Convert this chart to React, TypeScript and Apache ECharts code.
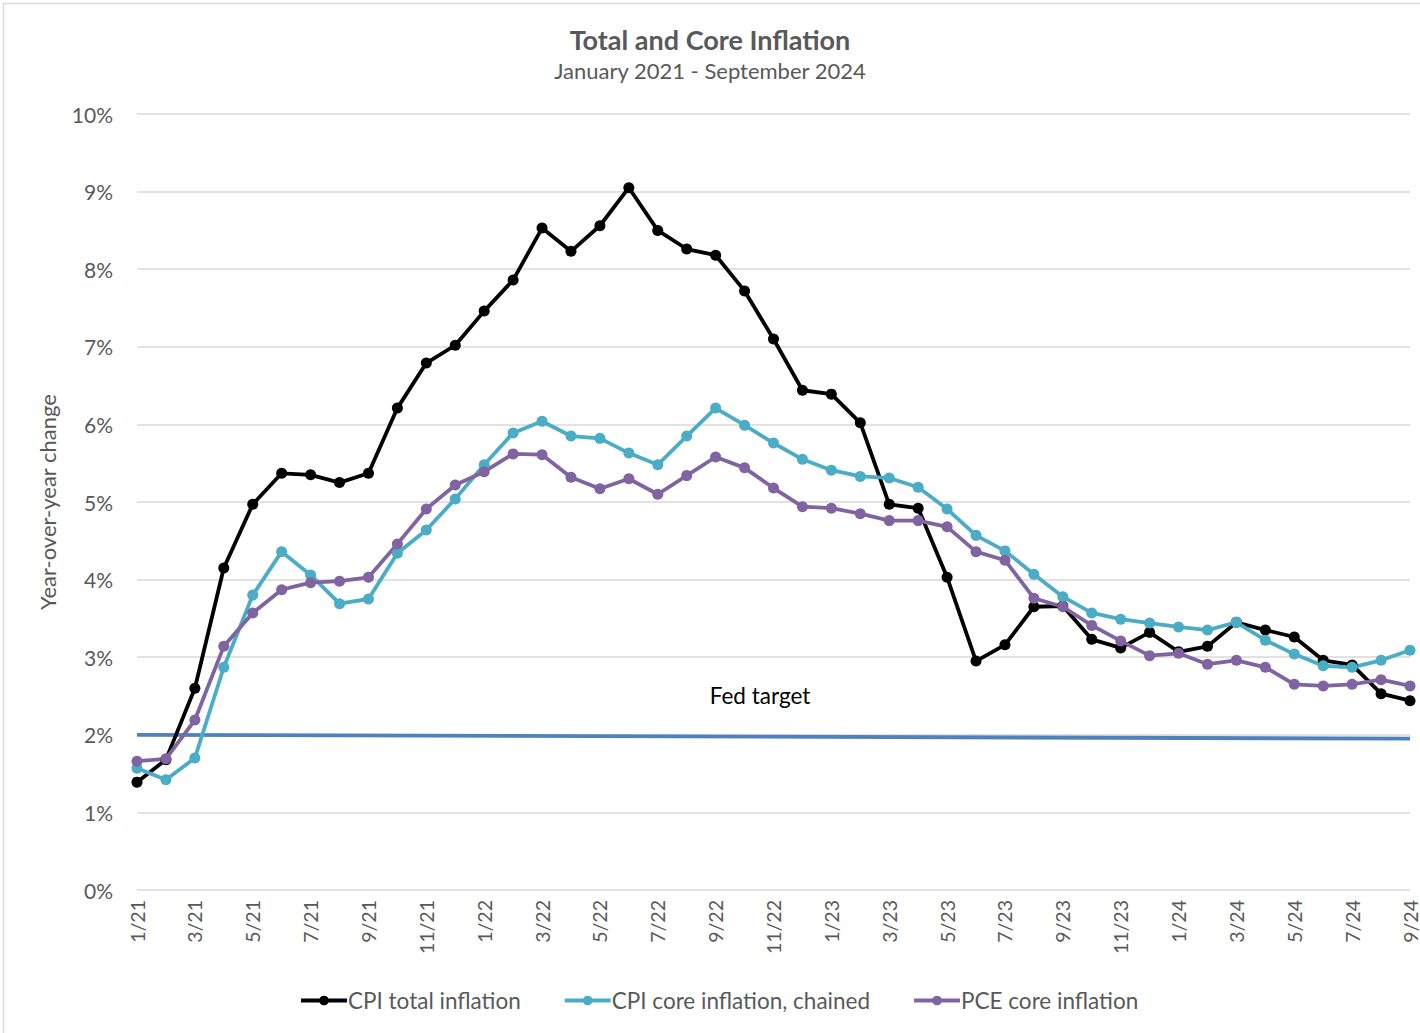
import React, { useEffect, useRef } from "react";
import * as echarts from "echarts";

const months = [
  "1/21","2/21","3/21","4/21","5/21","6/21","7/21","8/21","9/21","10/21","11/21","12/21",
  "1/22","2/22","3/22","4/22","5/22","6/22","7/22","8/22","9/22","10/22","11/22","12/22",
  "1/23","2/23","3/23","4/23","5/23","6/23","7/23","8/23","9/23","10/23","11/23","12/23",
  "1/24","2/24","3/24","4/24","5/24","6/24","7/24","8/24","9/24",
];

const cpiTotal = [
  1.39, 1.68, 2.6, 4.15, 4.97, 5.37, 5.35, 5.25, 5.37, 6.21, 6.79, 7.02,
  7.46, 7.86, 8.53, 8.23, 8.56, 9.05, 8.5, 8.26, 8.18, 7.72, 7.1, 6.44,
  6.39, 6.02, 4.97, 4.92, 4.03, 2.95, 3.16, 3.65, 3.66, 3.23, 3.12, 3.32,
  3.07, 3.14, 3.45, 3.35, 3.26, 2.96, 2.9, 2.53, 2.44,
];

const cpiCore = [
  1.57, 1.42, 1.7, 2.87, 3.8, 4.36, 4.06, 3.69, 3.75, 4.34, 4.64, 5.04,
  5.48, 5.89, 6.04, 5.85, 5.82, 5.63, 5.48, 5.85, 6.21, 5.99, 5.76, 5.55,
  5.41, 5.33, 5.31, 5.19, 4.91, 4.57, 4.37, 4.07, 3.78, 3.57, 3.49, 3.44,
  3.39, 3.35, 3.45, 3.22, 3.04, 2.89, 2.87, 2.96, 3.09,
];

const pceCore = [
  1.66, 1.69, 2.19, 3.14, 3.57, 3.87, 3.96, 3.98, 4.03, 4.46, 4.91, 5.22,
  5.39, 5.62, 5.61, 5.32, 5.17, 5.3, 5.1, 5.34, 5.58, 5.44, 5.18, 4.94,
  4.92, 4.85, 4.76, 4.76, 4.68, 4.36, 4.25, 3.76, 3.65, 3.41, 3.21, 3.02,
  3.05, 2.91, 2.96, 2.87, 2.65, 2.63, 2.65, 2.71, 2.63,
];

const fedTargetStart = 2.0;
const fedTargetEnd = 1.95;

const yTicks = [0, 1, 2, 3, 4, 5, 6, 7, 8, 9, 10];

const FONT = "Lato, 'Noto Sans', sans-serif";
const GREY = "#595959";

export default function App() {
  const ref = useRef<HTMLDivElement>(null);

  useEffect(() => {
    if (!ref.current) return;
    const chart = echarts.init(ref.current, null, { renderer: "svg" });
    const fedData = months.map((_, i) =>
      i === 0 ? fedTargetStart : i === months.length - 1 ? fedTargetEnd : null
    );
    const lineSeries = (name: string, data: number[], color: string) => ({
      name,
      type: "line",
      data,
      symbol: "circle",
      symbolSize: 11,
      showSymbol: true,
      lineStyle: { color, width: 3.8 },
      itemStyle: { color },
      z: 3,
    });
    chart.setOption({
      animation: false,
      backgroundColor: "#ffffff",
      textStyle: { fontFamily: FONT },
      title: {
        text: "Total and Core Inflation",
        subtext: "January 2021 - September 2024",
        left: "center",
        top: 21,
        itemGap: 6,
        textStyle: { fontFamily: FONT, fontSize: 27, fontWeight: "bold", color: GREY },
        subtextStyle: { fontFamily: FONT, fontSize: 22, color: GREY },
      },
      grid: { left: 137, right: 10, top: 114, bottom: 143, containLabel: false },
      legend: {
        bottom: 21,
        left: 299,
        padding: 0,
        itemWidth: 46,
        itemHeight: 12,
        itemGap: 42,
        lineStyle: { width: 4 },
        textStyle: { fontFamily: FONT, fontSize: 22.5, color: GREY, padding: [0, 0, 0, -4] },
        data: ["CPI total inflation", "CPI core inflation, chained", "PCE core inflation"],
      },
      xAxis: {
        type: "category",
        data: months,
        boundaryGap: false,
        axisLine: { show: false },
        axisTick: { show: false },
        axisLabel: {
          interval: 1,
          rotate: 90,
          fontFamily: FONT,
          fontSize: 19.5,
          color: GREY,
          margin: 10,
        },
        splitLine: { show: false },
      },
      yAxis: {
        type: "value",
        min: 0,
        max: 10,
        interval: 1,
        name: "Year-over-year change",
        nameLocation: "middle",
        nameGap: 79,
        nameRotate: 90,
        nameTextStyle: { fontFamily: FONT, fontSize: 22, color: GREY },
        axisLine: { show: false },
        axisTick: { show: false },
        axisLabel: {
          fontFamily: FONT,
          fontSize: 21,
          color: GREY,
          margin: 24,
          formatter: (v: number) => (yTicks.includes(v) ? `${v}%` : ""),
        },
        splitLine: { lineStyle: { color: "#d9d9d9", width: 1.5 } },
      },
      series: [
        {
          name: "Fed target",
          type: "line",
          data: fedData,
          connectNulls: true,
          symbol: "none",
          lineStyle: { color: "#4f81bd", width: 3.8 },
          z: 2,
          silent: true,
        },
        lineSeries("CPI total inflation", cpiTotal, "#000000"),
        lineSeries("CPI core inflation, chained", cpiCore, "#4bacc6"),
        lineSeries("PCE core inflation", pceCore, "#8064a2"),
      ],
      graphic: [
        {
          type: "rect",
          shape: { x: 3.5, y: 3.5, width: 1440, height: 1060 },
          style: { fill: "none", stroke: "#d9d9d9", lineWidth: 1.5 },
          silent: true,
        },
        {
          type: "text",
          x: 760,
          y: 695,
          style: {
            text: "Fed target",
            fontFamily: FONT,
            fontSize: 22.5,
            fill: "#000000",
            align: "center",
            verticalAlign: "middle",
          },
        },
      ],
    });
    return () => chart.dispose();
  }, []);

  return (
    <div
      ref={ref}
      style={{ position: "fixed", left: 0, top: 0, width: 1420, height: 1033 }}
    />
  );
}
